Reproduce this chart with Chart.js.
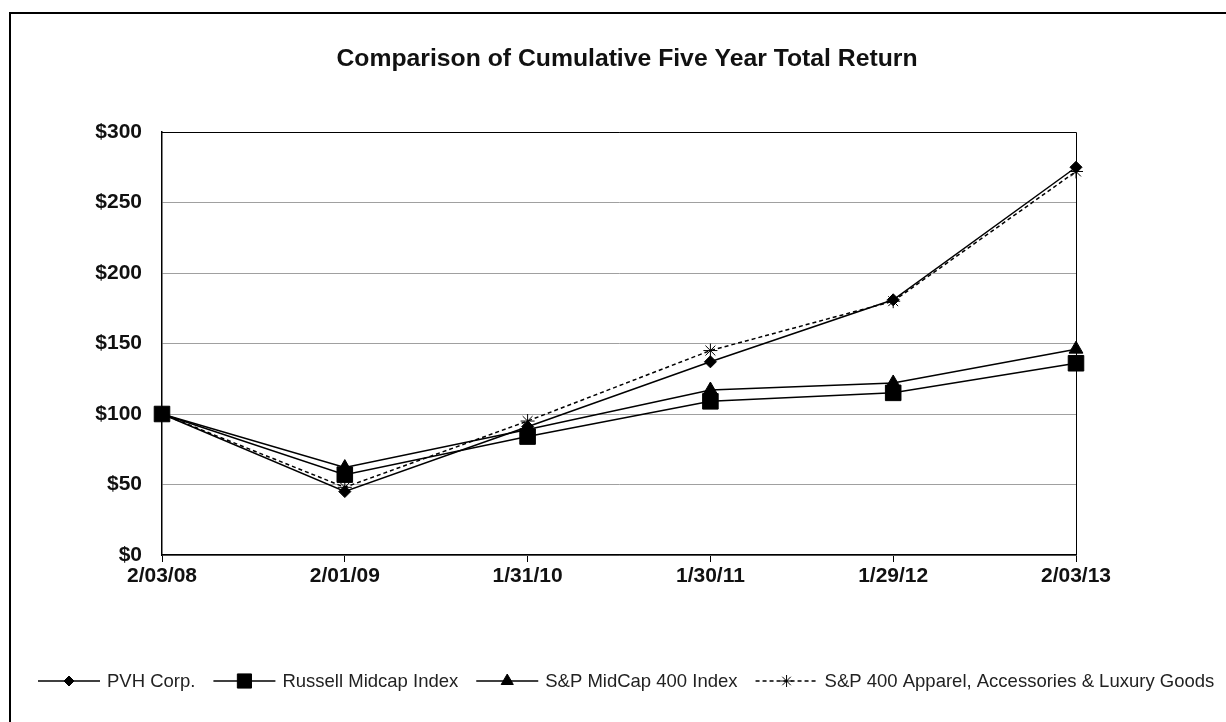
<!DOCTYPE html>
<html>
<head>
<meta charset="utf-8">
<script src="https://cdn.jsdelivr.net/npm/chart.js@4.4.1/dist/chart.umd.min.js"></script>
<style>
  html, body { margin: 0; padding: 0; background: #fff; }
  #frame {
    position: absolute; left: 9px; top: 12px; width: 1217px; height: 710px;
    border-top: 2px solid #000; border-left: 2px solid #000;
  }
  #wrap { position: absolute; left: 0; top: 0; width: 1226px; height: 722px; }
</style>
</head>
<body>
<div id="frame"></div>
<div id="wrap"><canvas id="chart" width="1226" height="722"></canvas></div>
<script>
// fiscal year-end dates, indexed to $100 at the first one
const DATES = ["2/03/08", "2/01/09", "1/31/10", "1/30/11", "1/29/12", "2/03/13"];

const PVH       = [100, 45, 91, 137, 181, 275];
const RUSSELL   = [100, 57, 84, 109, 115, 136];
const SP400     = [100, 62, 89, 117, 122, 146];
const APPAREL   = [100, 48, 95, 145, 180, 272];

const Y_TICKS = [0, 50, 100, 150, 200, 250, 300];

const TITLE = "Comparison of Cumulative Five Year Total Return";

const FONT = "'Liberation Sans', Arial, sans-serif";

const SERIES = [
  { label: "PVH Corp.", data: PVH, style: "rectRot", radius: 6, legendRadius: 5, dash: [] },
  { label: "Russell Midcap Index", data: RUSSELL, style: "rect", radius: 11, legendRadius: 10, dash: [] },
  { label: "S&P MidCap 400 Index", data: SP400, style: "triangle", radius: 8, legendRadius: 7, dash: [] },
  { label: "S&P 400 Apparel, Accessories & Luxury Goods", data: APPAREL, style: "star", radius: 7, legendRadius: 6, dash: [4, 3] },
];

// title, plot border and the line+marker legend along the bottom
const decorations = {
  id: "decorations",
  afterDraw(chart) {
    const ctx = chart.ctx;
    const a = chart.chartArea;
    ctx.save();

    ctx.strokeStyle = "#000";
    ctx.lineWidth = 1;
    ctx.beginPath();
    ctx.moveTo(a.left, a.top + 0.5);
    ctx.lineTo(a.right + 0.5, a.top + 0.5);
    ctx.lineTo(a.right + 0.5, a.bottom);
    ctx.stroke();

    // title is a little wider than the stock font, stretch it
    ctx.fillStyle = "#111";
    ctx.font = "bold 24px " + FONT;
    ctx.textAlign = "center";
    ctx.textBaseline = "middle";
    const tw = ctx.measureText(TITLE).width;
    ctx.save();
    ctx.translate(627, 59);
    ctx.scale(581 / tw, 1);
    ctx.fillText(TITLE, 0, 0);
    ctx.restore();

    ctx.font = "18.5px " + FONT;
    ctx.textAlign = "left";
    let x = 38;
    const y = 681;
    SERIES.forEach(s => {
      const segLen = 62;
      ctx.strokeStyle = "#000";
      ctx.lineWidth = 1.5;
      ctx.setLineDash(s.dash);
      ctx.beginPath();
      ctx.moveTo(x, y);
      ctx.lineTo(x + segLen, y);
      ctx.stroke();
      ctx.setLineDash([]);
      ctx.fillStyle = "#000";
      ctx.lineWidth = 1;
      Chart.helpers.drawPoint(ctx, {
        pointStyle: s.style, radius: s.legendRadius, rotation: 0, borderWidth: 1,
      }, x + segLen / 2, y);
      ctx.fillStyle = "#222";
      ctx.fillText(s.label, x + segLen + 7, y + 1);
      x += segLen + 7 + ctx.measureText(s.label).width + 18;
    });

    ctx.restore();
  },
};

new Chart(document.getElementById("chart"), {
  type: "line",
  data: {
    labels: DATES,
    datasets: SERIES.map(s => ({
      label: s.label,
      data: s.data,
      borderColor: "#000",
      backgroundColor: "#000",
      borderWidth: 1.5,
      borderDash: s.dash,
      pointStyle: s.style,
      pointRadius: s.radius,
      pointBorderWidth: 1,
      pointBorderColor: "#000",
      pointBackgroundColor: "#000",
      tension: 0,
      fill: false,
    })),
  },
  options: {
    responsive: false,
    animation: false,
    layout: { padding: { top: 132, right: 150, left: 0, bottom: 0 } },
    plugins: { legend: { display: false }, title: { display: false }, tooltip: { enabled: false } },
    scales: {
      x: {
        offset: false,
        afterFit: s => { s.height = 167; },
        grid: { drawOnChartArea: false, drawTicks: true, tickLength: 7, color: "#000", lineWidth: 1 },
        border: { color: "#000", width: 1.5 },
        ticks: { color: "#111", font: { family: FONT, size: 21, weight: "bold" }, padding: 2, maxRotation: 0, autoSkip: false },
      },
      y: {
        min: 0,
        max: 300,
        afterFit: s => { s.width = 162; },
        afterBuildTicks: s => { s.ticks = Y_TICKS.map(v => ({ value: v })); },
        grid: { color: "#a0a0a0", lineWidth: 1, drawTicks: false },
        border: { color: "#000", width: 1.5 },
        ticks: {
          color: "#111",
          font: { family: FONT, size: 21, weight: "bold" },
          padding: 20,
          callback: v => "$" + v,
        },
      },
    },
  },
  plugins: [decorations],
});
</script>
</body>
</html>
